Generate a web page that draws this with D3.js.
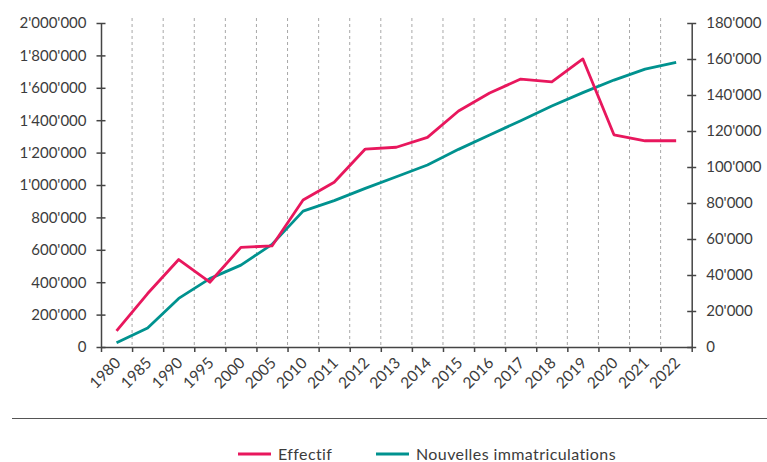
<!DOCTYPE html>
<html>
<head>
<meta charset="utf-8">
<script src="https://cdn.jsdelivr.net/npm/d3@7"></script>
<style>
  body { margin: 0; background: #fff; }
  svg { display: block; font-family: Lato, "Open Sans", sans-serif; }
</style>
</head>
<body>
<div id="vis"></div>
<script>
// years shown on the x axis (uneven steps before 2010)
var years = ["1980","1985","1990","1995","2000","2005","2010","2011","2012","2013","2014",
             "2015","2016","2017","2018","2019","2020","2021","2022"];

// Effectif (left axis)
var effectif = [100000, 330000, 540000, 400000, 615000, 624000, 907000, 1017000, 1222000, 1233000,
                1294000, 1457000, 1568000, 1654000, 1636000, 1778000, 1310000, 1273000, 1273000];

// Nouvelles immatriculations (right axis)
var nouvelles = [2400, 10600, 27000, 38000, 45500, 57000, 75500, 81300, 88100, 94600,
                 101100, 109800, 117800, 125700, 133900, 141300, 148300, 154400, 158100];

var leftTicks = [0, 200000, 400000, 600000, 800000, 1000000, 1200000, 1400000, 1600000, 1800000, 2000000];
var rightTicks = [0, 20000, 40000, 60000, 80000, 100000, 120000, 140000, 160000, 180000];

var seriesNames = ["Effectif", "Nouvelles immatriculations"];
var colors = ["#e8175d", "#00928f"];

var W = 767, H = 462;
var margin = {left: 101, right: 691.7, top: 23, bottom: 347};

var loc = d3.formatLocale({decimal: ".", thousands: "'", grouping: [3], currency: ["", ""]});
var fmt = loc.format(",");

var svg = d3.select("#vis").append("svg")
    .attr("width", W)
    .attr("height", H);

var x = d3.scaleBand().domain(years).range([margin.left, margin.right]).padding(0);
var xb = d3.scaleLinear().domain([0, years.length]).range([margin.left, margin.right]);
var yL = d3.scaleLinear().domain([0, 2000000]).range([margin.bottom, margin.top]);
var yR = d3.scaleLinear().domain([0, 180000]).range([margin.bottom, margin.top]);

// dashed vertical grid at the band edges
svg.append("g")
  .selectAll("line")
  .data(d3.range(1, years.length))
  .enter().append("line")
    .attr("x1", function(d) { return xb(d); })
    .attr("x2", function(d) { return xb(d); })
    .attr("y1", 18)
    .attr("y2", margin.bottom)
    .attr("stroke", "#a8a8a8")
    .attr("stroke-width", 1)
    .attr("stroke-dasharray", "3,3");

var axisColor = "#444";
var textColor = "#3c3c3c";

// x axis
var gx = svg.append("g")
    .attr("transform", "translate(0," + margin.bottom + ")")
    .call(d3.axisBottom(xb).tickValues(d3.range(0, years.length + 1)).tickFormat("").tickSize(5).tickSizeOuter(0));
gx.select(".domain").attr("stroke", axisColor).attr("stroke-width", 1.5);
gx.selectAll(".tick line").attr("stroke", axisColor).attr("stroke-width", 1.5);

svg.append("g")
  .selectAll("text")
  .data(years)
  .enter().append("text")
    .attr("transform", function(d) {
      return "translate(" + (x(d) + x.bandwidth() / 2 + 5) + "," + (margin.bottom + 17) + ") rotate(-45)";
    })
    .attr("text-anchor", "end")
    .attr("font-size", 15.5)
    .attr("fill", textColor)
    .text(function(d) { return d; });

// left axis
var gl = svg.append("g")
    .attr("transform", "translate(" + margin.left + ",0)")
    .call(d3.axisLeft(yL).tickValues(leftTicks).tickFormat(fmt).tickSize(4.5).tickSizeOuter(0).tickPadding(10));
gl.select(".domain").attr("stroke", axisColor).attr("stroke-width", 1.5);
gl.selectAll(".tick line").attr("x1", 4.5).attr("stroke", axisColor).attr("stroke-width", 1.5);
gl.selectAll(".tick text").attr("font-size", 15).attr("fill", textColor)
    .attr("font-family", "Lato, sans-serif");

// right axis
var gr = svg.append("g")
    .attr("transform", "translate(" + margin.right + ",0)")
    .call(d3.axisRight(yR).tickValues(rightTicks).tickFormat(fmt).tickSize(4.5).tickSizeOuter(0).tickPadding(10));
gr.select(".domain").attr("stroke", axisColor).attr("stroke-width", 1.5);
gr.selectAll(".tick line").attr("x1", -4.5).attr("stroke", axisColor).attr("stroke-width", 1.5);
gr.selectAll(".tick text").attr("font-size", 15).attr("fill", textColor)
    .attr("font-family", "Lato, sans-serif");

// lines
var cx = function(d, i) { return x(years[i]) + x.bandwidth() / 2; };

svg.append("path")
    .datum(nouvelles)
    .attr("fill", "none")
    .attr("stroke", colors[1])
    .attr("stroke-width", 2.8)
    .attr("stroke-linejoin", "round")
    .attr("d", d3.line().x(cx).y(function(d) { return yR(d); }));

svg.append("path")
    .datum(effectif)
    .attr("fill", "none")
    .attr("stroke", colors[0])
    .attr("stroke-width", 2.8)
    .attr("stroke-linejoin", "round")
    .attr("d", d3.line().x(cx).y(function(d) { return yL(d); }));

// separator line
svg.append("line")
    .attr("x1", 12).attr("x2", W)
    .attr("y1", 418.5).attr("y2", 418.5)
    .attr("stroke", "#555")
    .attr("stroke-width", 1.2);

// legend
var legendX = [238, 376];
var lg = svg.append("g")
  .selectAll("g")
  .data(seriesNames)
  .enter().append("g")
    .attr("transform", function(d, i) { return "translate(" + legendX[i] + ",454)"; });

lg.append("line")
    .attr("x1", 0).attr("x2", 33)
    .attr("stroke", function(d, i) { return colors[i]; })
    .attr("stroke-width", 2.8);

lg.append("text")
    .attr("x", 40)
    .attr("y", 5.5)
    .attr("font-size", 16)
    .attr("letter-spacing", 0.4)
    .attr("fill", textColor)
    .text(function(d) { return d; });
</script>
</body>
</html>
